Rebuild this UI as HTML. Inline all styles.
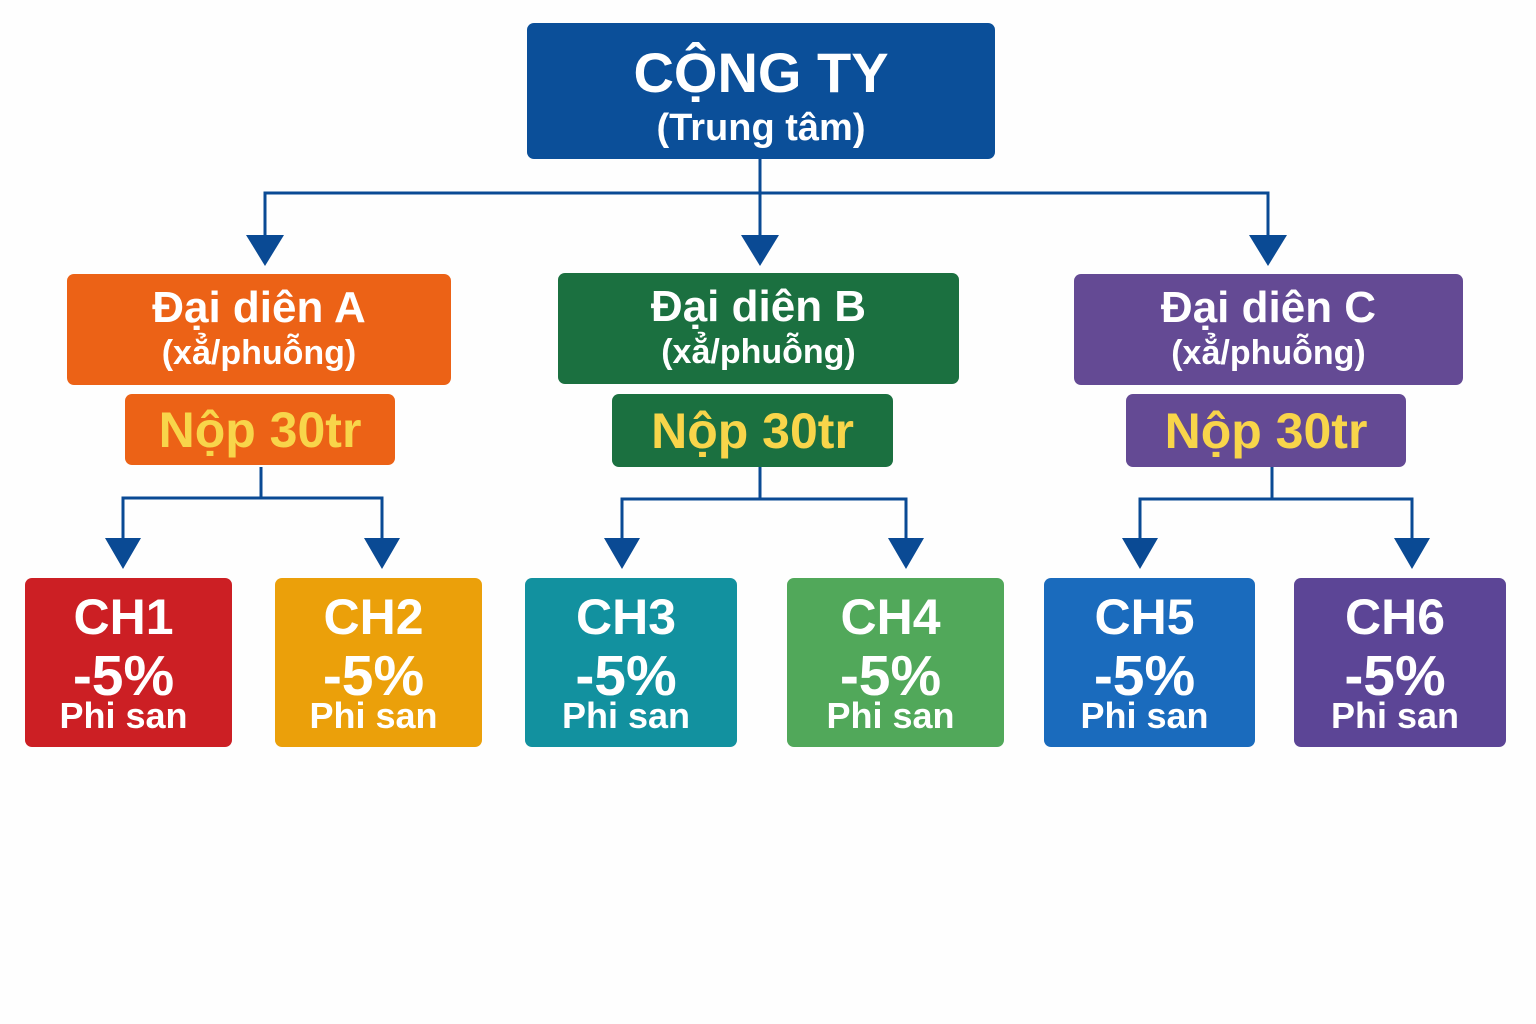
<!DOCTYPE html>
<html><head><meta charset="utf-8"><style>
body{margin:0;width:1536px;height:1024px;background:#fefefe;position:relative;overflow:hidden;font-family:"Liberation Sans","DejaVu Sans",sans-serif;font-weight:bold;color:#fff}
.b{position:absolute;border-radius:7px;text-align:center}
.t{position:absolute;left:0;right:0;text-align:center;white-space:nowrap;line-height:1}
.c .t{right:10px}
svg{position:absolute;left:0;top:0}
</style></head><body>
<svg width="1536" height="1024">
<g stroke="#0a4a94" stroke-width="3" fill="none">
<path d="M760 159V240M265 240V193H1268V240"/>
<path d="M261 467V498M123 540V498H382V540"/>
<path d="M760 467V499M622 540V499H906V540"/>
<path d="M1272 467V499M1140 540V499H1412V540"/>
</g>
<g fill="#0a4a94">
<path d="M246 235L284 235L265 266Z"/><path d="M741 235L779 235L760 266Z"/><path d="M1249 235L1287 235L1268 266Z"/>
<path d="M105 538L141 538L123 569Z"/><path d="M364 538L400 538L382 569Z"/>
<path d="M604 538L640 538L622 569Z"/><path d="M888 538L924 538L906 569Z"/>
<path d="M1122 538L1158 538L1140 569Z"/><path d="M1394 538L1430 538L1412 569Z"/>
</g>
</svg>
<div class="b" style="left:527px;top:23px;width:468px;height:136px;background:#0b4f99">
<div class="t" style="top:22px;font-size:56px">CỘNG TY</div>
<div class="t" style="top:86px;font-size:38px">(Trung tâm)</div></div>

<div class="b" style="left:67px;top:274px;width:384px;height:111px;background:#ec6216">
<div class="t" style="top:12px;font-size:44px">Đại diên A</div><div class="t" style="top:62px;font-size:34px">(xẳ/phuỗng)</div></div>
<div class="b" style="left:558px;top:273px;width:401px;height:111px;background:#1b7040">
<div class="t" style="top:12px;font-size:44px">Đại diên B</div><div class="t" style="top:62px;font-size:34px">(xẳ/phuỗng)</div></div>
<div class="b" style="left:1074px;top:274px;width:389px;height:111px;background:#644a94">
<div class="t" style="top:12px;font-size:44px">Đại diên C</div><div class="t" style="top:62px;font-size:34px">(xẳ/phuỗng)</div></div>

<div class="b" style="left:125px;top:394px;width:270px;height:71px;background:#ec6216;color:#f8d54a"><div class="t" style="top:11px;font-size:50px">Nộp 30tr</div></div>
<div class="b" style="left:612px;top:394px;width:281px;height:73px;background:#1b7040;color:#f8d54a"><div class="t" style="top:12px;font-size:50px">Nộp 30tr</div></div>
<div class="b" style="left:1126px;top:394px;width:280px;height:73px;background:#644a94;color:#f8d54a"><div class="t" style="top:12px;font-size:50px">Nộp 30tr</div></div>

<div class="b c" style="left:25px;top:578px;width:207px;height:169px;background:#cc1f24"><div class="t" style="top:14px;font-size:50px">CH1</div><div class="t" style="top:70px;font-size:57px">-5%</div><div class="t" style="top:120px;font-size:36px">Phi san</div></div>
<div class="b c" style="left:275px;top:578px;width:207px;height:169px;background:#eba00a"><div class="t" style="top:14px;font-size:50px">CH2</div><div class="t" style="top:70px;font-size:57px">-5%</div><div class="t" style="top:120px;font-size:36px">Phi san</div></div>
<div class="b c" style="left:525px;top:578px;width:212px;height:169px;background:#12919f"><div class="t" style="top:14px;font-size:50px">CH3</div><div class="t" style="top:70px;font-size:57px">-5%</div><div class="t" style="top:120px;font-size:36px">Phi san</div></div>
<div class="b c" style="left:787px;top:578px;width:217px;height:169px;background:#51a85a"><div class="t" style="top:14px;font-size:50px">CH4</div><div class="t" style="top:70px;font-size:57px">-5%</div><div class="t" style="top:120px;font-size:36px">Phi san</div></div>
<div class="b c" style="left:1044px;top:578px;width:211px;height:169px;background:#1a6bbd"><div class="t" style="top:14px;font-size:50px">CH5</div><div class="t" style="top:70px;font-size:57px">-5%</div><div class="t" style="top:120px;font-size:36px">Phi san</div></div>
<div class="b c" style="left:1294px;top:578px;width:212px;height:169px;background:#5c4596"><div class="t" style="top:14px;font-size:50px">CH6</div><div class="t" style="top:70px;font-size:57px">-5%</div><div class="t" style="top:120px;font-size:36px">Phi san</div></div>
</body></html>
